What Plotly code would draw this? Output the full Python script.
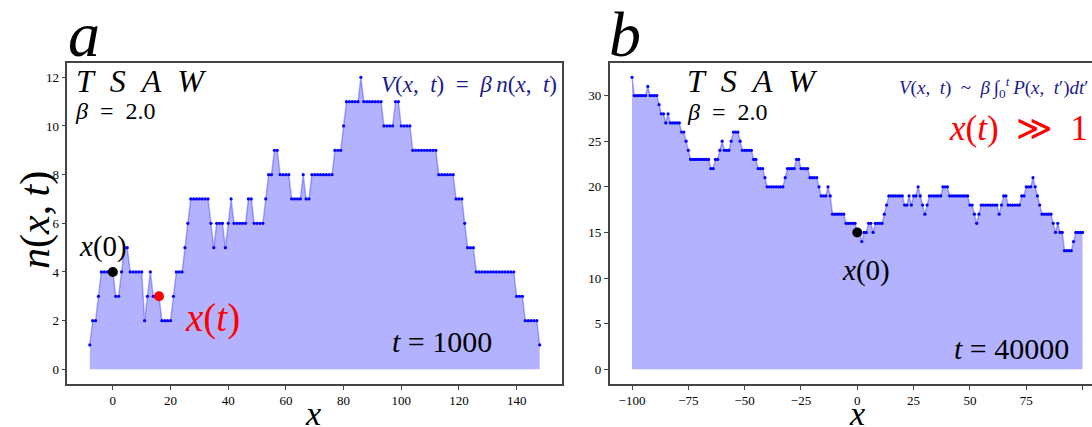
import plotly.graph_objects as go

# ---------------- data ----------------
x_a = list(range(-8, 149))
n_a = [1, 2, 2, 3, 4, 4, 4, 4, 4, 3,
       3, 4, 5, 5, 4, 4, 4, 4, 4, 2,
       3, 4, 3, 3, 3, 2, 2, 2, 2, 3,
       4, 4, 4, 5, 6, 7, 7, 7, 7, 7,
       7, 7, 6, 5, 6, 6, 6, 5, 6, 7,
       6, 6, 6, 6, 6, 7, 7, 6, 6, 6,
       6, 7, 8, 8, 9, 9, 8, 8, 8, 8,
       7, 7, 7, 7, 8, 7, 7, 8, 8, 8,
       8, 8, 8, 8, 8, 9, 9, 9, 10, 11,
       11, 11, 11, 11, 12, 11, 11, 11, 11, 11,
       11, 11, 10, 10, 10, 10, 11, 11, 10, 10,
       10, 10, 9, 9, 9, 9, 9, 9, 9, 9,
       9, 8, 8, 8, 8, 8, 8, 7, 7, 7,
       6, 5, 5, 5, 4, 4, 4, 4, 4, 4,
       4, 4, 4, 4, 4, 4, 4, 4, 3, 3,
       3, 2, 2, 2, 2, 2, 1]
x_b = list(range(-100, 101))
n_b = [32, 30, 30, 30, 30, 30, 30, 31, 30, 30,
       30, 30, 29, 28, 28, 27, 28, 27, 27, 27,
       27, 27, 26, 26, 25, 24, 23, 23, 23, 23,
       23, 23, 23, 23, 23, 22, 22, 23, 23, 24,
       25, 24, 24, 24, 25, 26, 26, 26, 25, 24,
       24, 24, 24, 24, 23, 23, 22, 22, 22, 21,
       20, 20, 20, 20, 20, 20, 20, 20, 21, 22,
       22, 22, 22, 23, 23, 22, 22, 22, 22, 21,
       21, 21, 21, 20, 19, 19, 19, 20, 19, 17,
       17, 17, 17, 17, 17, 16, 16, 16, 16, 16,
       15, 15, 14, 15, 15, 16, 16, 15, 16, 16,
       16, 16, 17, 18, 19, 19, 19, 19, 19, 19,
       19, 18, 18, 19, 18, 19, 19, 20, 19, 18,
       17, 18, 19, 19, 19, 19, 19, 19, 20, 20,
       20, 19, 19, 19, 19, 19, 19, 19, 19, 19,
       18, 18, 17, 16, 17, 18, 18, 18, 18, 18,
       18, 18, 18, 17, 18, 19, 19, 18, 18, 18,
       18, 18, 18, 19, 19, 20, 20, 20, 21, 20,
       19, 18, 17, 17, 17, 17, 17, 16, 15, 16,
       15, 15, 13, 13, 13, 13, 14, 15, 15, 15,
       15]
x0_a, n0_a = [0], [4]
xt_a, nt_a = [16], [3]
x0_b, n0_b = [0], [15]
xticks_a = [0, 20, 40, 60, 80, 100, 120, 140]
yticks_a = [0, 2, 4, 6, 8, 10, 12]
xticks_b = [-100, -75, -50, -25, 0, 25, 50, 75, 100]
yticks_b = [0, 5, 10, 15, 20, 25, 30]

# ---------------- figure ----------------
W, H = 1092, 427
SERIF = "Liberation Serif, DejaVu Serif, serif"
FILL = "rgba(0,0,255,0.30)"
LINE = "rgba(0,0,255,0.30)"
EN = "\u2002"
TH = "\u2009"

fig = go.Figure()
for xs, ys, xa, ya in [(x_a, n_a, "x", "y"), (x_b, n_b, "x2", "y2")]:
    fig.add_trace(go.Scatter(x=xs, y=ys, mode="lines+markers", fill="tozeroy",
                             fillcolor=FILL, line=dict(color=LINE, width=1.5),
                             marker=dict(color="blue", size=3.2),
                             xaxis=xa, yaxis=ya, showlegend=False, hoverinfo="skip"))

fig.add_trace(go.Scatter(x=x0_a, y=n0_a, mode="markers", marker=dict(color="black", size=10),
                         xaxis="x", yaxis="y", showlegend=False))
fig.add_trace(go.Scatter(x=xt_a, y=nt_a, mode="markers", marker=dict(color="red", size=10),
                         xaxis="x", yaxis="y", showlegend=False))
fig.add_trace(go.Scatter(x=x0_b, y=n0_b, mode="markers", marker=dict(color="black", size=10),
                         xaxis="x2", yaxis="y2", showlegend=False))

ydom = [1 - 383.9 / H, 1 - 62.7 / H]
axis_common = dict(showgrid=False, zeroline=False, showline=True, linecolor="#444", linewidth=1.5,
                   ticks="outside", ticklen=4, tickwidth=1, tickcolor="#444", automargin=False,
                   tickfont=dict(family=SERIF, size=13, color="black"))

fig.update_layout(
    width=W, height=H, margin=dict(l=0, r=0, t=0, b=0, autoexpand=False),
    paper_bgcolor="white", plot_bgcolor="white",
    xaxis=dict(domain=[67.3 / W, 562.2 / W], range=[-15.8, 155.8], tickvals=xticks_a,
               mirror=True, anchor="y", **axis_common),
    yaxis=dict(domain=ydom, range=[-0.6, 12.6], tickvals=yticks_a, mirror=True, anchor="x",
               **axis_common),
    xaxis2=dict(domain=[609.5 / W, 1.0], range=[-110, 104.2], tickvals=xticks_b,
                mirror=True, anchor="y2", **axis_common),
    yaxis2=dict(domain=ydom, range=[-1.6, 33.6], tickvals=yticks_b, mirror=False, anchor="x2",
                **axis_common),
)


def ann(text, px, py, size, color="black", xanchor="center", angle=0):
    fig.add_annotation(text=text, x=px / W, y=1 - py / H, xref="paper", yref="paper",
                       xanchor=xanchor, yanchor="middle", showarrow=False, textangle=angle,
                       font=dict(family=SERIF, size=size, color=color))


NAVY = "#1a1a8c"
tsaw = "<i>T" + EN + "S" + EN + "A" + EN + "W</i>"
beta = "<i>β</i>" + EN + "=" + EN + "2.0"
# panel a
ann("<i>a</i>", 84, 35, 64)
ann(tsaw, 74, 81, 32, xanchor="left")
ann(beta, 73, 111, 24, xanchor="left")
ann("<i>V</i>(<i>x</i>," + EN + "<i>t</i>)" + EN + "=" + EN + "<i>β" + TH + "n</i>(<i>x</i>," + EN + "<i>t</i>)",
    559, 84, 23, NAVY, xanchor="right")
ann("<i>x</i>(0)", 103, 246, 29)
ann("<i>x</i>(<i>t</i>)", 183, 318, 39, "red", xanchor="left")
ann("<i>t</i> = 1000", 390, 341, 30, xanchor="left")
ann("<i>n</i>(<i>x</i>," + TH + "<i>t</i>)", 35, 220, 42, angle=-90)
ann("<i>x</i>", 313, 413, 34)
# panel b
ann("<i>b</i>", 625, 35, 64)
ann(tsaw, 685, 81, 32, xanchor="left")
ann(beta, 685, 112, 24, xanchor="left")
ann("<i>V</i>(<i>x</i>," + EN + "<i>t</i>)" + EN + "~" + EN + "<i>β</i>" + TH + "∫<sub>0</sub><sup><i>t</i></sup>"
    + TH + "<i>P</i>(<i>x</i>," + EN + "<i>t</i>′)<i>dt</i>′",
    1091, 87, 19, NAVY, xanchor="right")
ann("<i>x</i>(<i>t</i>)" + EN + "≫" + EN + "1", 1090, 128, 35, "red", xanchor="right")
ann("<i>x</i>(0)", 866, 270, 29)
ann("<i>t</i> = 40000", 952, 348, 30, xanchor="left")
ann("<i>x</i>", 857, 413, 34)

fig.write_html("out.html", config={"displayModeBar": False},
               post_script="document.body.style.margin='0px';document.body.style.overflow='hidden';")
